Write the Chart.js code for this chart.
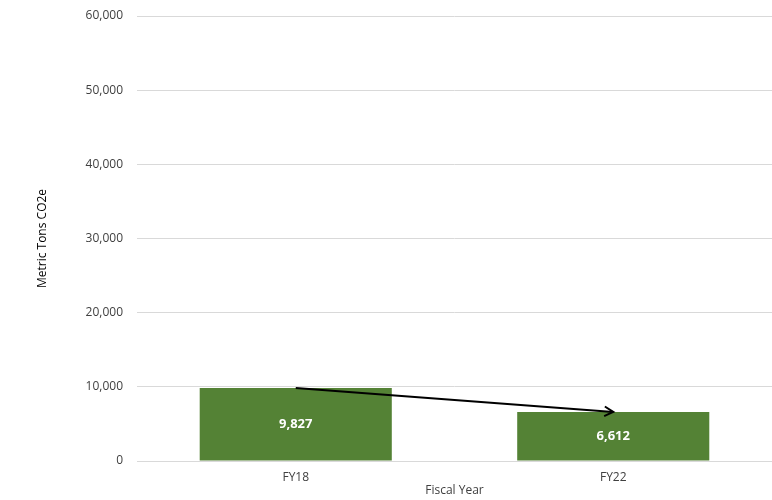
<!DOCTYPE html>
<html>
<head>
<meta charset="utf-8">
<script src="https://cdn.jsdelivr.net/npm/chart.js@4"></script>
<style>
  html, body { margin: 0; padding: 0; background: #fff; }
  #wrap { width: 772px; height: 500px; }
</style>
</head>
<body>
<div id="wrap"><canvas id="chart"></canvas></div>
<script>
// Chart data
const years = ['FY18', 'FY22'];
const emissions = [9827, 6612];
const yTicks = [0, 10000, 20000, 30000, 40000, 50000, 60000];

const fontFamily = "'Open Sans', 'Liberation Sans', sans-serif";

// Draws value labels inside bars and the trend arrow between bar tops
const barExtras = {
  id: 'barExtras',
  afterDatasetsDraw(chart) {
    const { ctx, scales: { x, y } } = chart;
    const meta = chart.getDatasetMeta(0);
    ctx.save();
    ctx.fillStyle = '#ffffff';
    ctx.font = 'bold 13px ' + fontFamily;
    ctx.textAlign = 'center';
    ctx.textBaseline = 'middle';
    meta.data.forEach((bar, i) => {
      const mid = (bar.y + bar.base) / 2;
      ctx.fillText(emissions[i].toLocaleString('en-US'), bar.x, mid);
    });

    // trend arrow from first bar top to last bar top
    const x0 = x.getPixelForValue(0), y0 = y.getPixelForValue(emissions[0]);
    const x1 = x.getPixelForValue(1), y1 = y.getPixelForValue(emissions[1]);
    ctx.strokeStyle = '#000';
    ctx.lineWidth = 2;
    ctx.beginPath();
    ctx.moveTo(x0, y0);
    ctx.lineTo(x1, y1);
    ctx.stroke();
    const ang = Math.atan2(y1 - y0, x1 - x0);
    const len = 10;
    ctx.beginPath();
    ctx.moveTo(x1 - len * Math.cos(ang - 0.5), y1 - len * Math.sin(ang - 0.5));
    ctx.lineTo(x1, y1);
    ctx.lineTo(x1 - len * Math.cos(ang + 0.5), y1 - len * Math.sin(ang + 0.5));
    ctx.stroke();
    ctx.restore();
  }
};

const ctx = document.getElementById('chart').getContext('2d');
new Chart(ctx, {
  type: 'bar',
  data: {
    labels: years,
    datasets: [{
      label: 'Metric Tons CO2e',
      data: emissions,
      backgroundColor: '#548235',
      borderWidth: 0,
      categoryPercentage: 1,
      barPercentage: 0.605
    }]
  },
  options: {
    responsive: true,
    maintainAspectRatio: false,
    animation: false,
    layout: { padding: { left: 35, top: 16, right: 0, bottom: 2 } },
    plugins: {
      legend: { display: false },
      tooltip: { enabled: false }
    },
    scales: {
      x: {
        afterFit(scale) { scale.height = 37; },
        grid: { display: false, drawTicks: false },
        border: { color: '#d9d9d9', width: 1 },
        ticks: { color: '#404040', font: { family: fontFamily, size: 12 }, padding: 9 },
        title: {
          display: true, text: 'Fiscal Year', color: '#404040',
          font: { family: fontFamily, size: 12 }, padding: { top: 0, bottom: 0 }
        }
      },
      y: {
        min: 0,
        max: 60000,
        afterFit(scale) {
          scale.width = 102;
          scale.paddingTop = 0;
          scale.paddingBottom = 0;
        },
        afterBuildTicks(scale) { scale.ticks = yTicks.map(v => ({ value: v })); },
        grid: { color: '#d9d9d9', drawTicks: false },
        border: { display: false },
        ticks: {
          color: '#404040',
          font: { family: fontFamily, size: 12 },
          padding: 14,
          callback: v => v.toLocaleString('en-US')
        },
        title: {
          display: true, text: 'Metric Tons CO2e', color: '#000',
          font: { family: fontFamily, size: 12 }, padding: 0
        }
      }
    }
  },
  plugins: [barExtras]
});
</script>
</body>
</html>
